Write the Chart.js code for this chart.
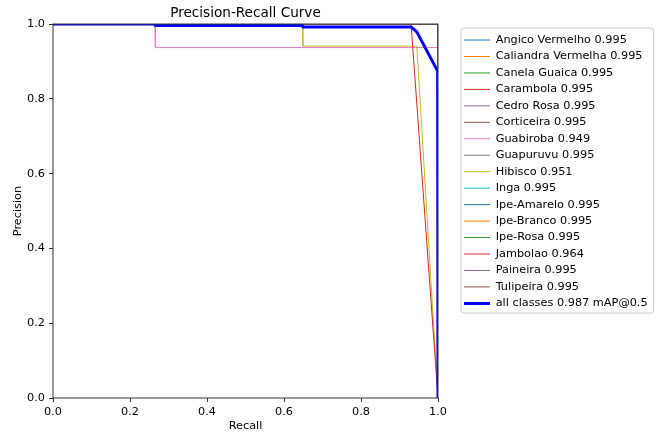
<!DOCTYPE html>
<html>
<head>
<meta charset="utf-8">
<script src="https://cdn.jsdelivr.net/npm/chart.js@4.4.1/dist/chart.umd.min.js"></script>
<style>
  html, body { margin: 0; padding: 0; background: #fff; }
  #wrap { width: 660px; height: 432px; }
</style>
</head>
<body>
<div id="wrap"><canvas id="pr-chart" width="660" height="432"></canvas></div>
<script>
// class names and their AP@0.5 as shown in the legend
const classNames = ['Angico Vermelho', 'Caliandra Vermelha', 'Canela Guaica', 'Carambola', 'Cedro Rosa',
    'Corticeira', 'Guabiroba', 'Guapuruvu', 'Hibisco', 'Inga', 'Ipe-Amarelo', 'Ipe-Branco',
    'Ipe-Rosa', 'Jambolao', 'Paineira', 'Tulipeira'];
const classAP = [0.995, 0.995, 0.995, 0.995, 0.995, 0.995, 0.949, 0.995, 0.951, 0.995, 0.995, 0.995,
    0.995, 0.964, 0.995, 0.995];
const meanAP = 0.987;

// curves (recall -> precision)
const perfectRecall = [0, 0.999, 1];
const perfectPrecision = [1, 1, 0];
const guabirobaRecall = [0, 0.265, 0.266, 0.999, 1];
const guabirobaPrecision = [1, 1, 0.937, 0.937, 0];
const hibiscoRecall = [0, 0.648, 0.649, 0.945, 1];
const hibiscoPrecision = [1, 1, 0.941, 0.941, 0];
const jambolaoRecall = [0, 0.93, 1];
const jambolaoPrecision = [1, 1, 0];
const allRecall = [0, 0.265, 0.266, 0.648, 0.649, 0.93, 0.945, 0.999, 1];
const allPrecision = [1, 1, 0.996, 0.996, 0.992, 0.992, 0.979, 0.874, 0];

// which curve each class uses
const classRecall = classNames.map(n => n === 'Guabiroba' ? guabirobaRecall
    : n === 'Hibisco' ? hibiscoRecall : n === 'Jambolao' ? jambolaoRecall : perfectRecall);
const classPrecision = classNames.map(n => n === 'Guabiroba' ? guabirobaPrecision
    : n === 'Hibisco' ? hibiscoPrecision : n === 'Jambolao' ? jambolaoPrecision : perfectPrecision);

const tickLabels = ['0.0', '0.2', '0.4', '0.6', '0.8', '1.0'];

// matplotlib tab10 cycle
const palette = ['#1f77b4', '#ff7f0e', '#2ca02c', '#d62728', '#9467bd', '#8c564b', '#e377c2', '#7f7f7f', '#bcbd22', '#17becf'];

const FONT = 'DejaVu Sans';
const FS = 11.3;
const HANDLE = 26;

function toPoints(rx, py) {
    return rx.map((r, i) => ({ x: r, y: py[i] }));
}

const datasets = classNames.map((name, i) => ({
    label: name + ' ' + classAP[i].toFixed(3),
    data: toPoints(classRecall[i], classPrecision[i]),
    borderColor: palette[i % palette.length],
    borderWidth: 1,
    pointBorderWidth: 1,
    order: classNames.length - i
}));
datasets.push({
    label: 'all classes ' + meanAP.toFixed(3) + ' mAP@0.5',
    data: toPoints(allRecall, allPrecision),
    borderColor: '#0000ff',
    borderWidth: 3,
    pointBorderWidth: 3,
    order: 0
});

function legendTextWidth(ctx, items) {
    ctx.save();
    ctx.font = FS + 'px "' + FONT + '"';
    const w = Math.max(...items.map(it => ctx.measureText(it.text).width));
    ctx.restore();
    return w;
}

// moves the legend next to the plot and draws frame + spines like matplotlib
const mplLook = {
    id: 'mplLook',
    afterLayout(chart) {
        const lg = chart.legend;
        const pad = lg.options.labels.padding;
        const left = chart.chartArea.right + 26 - pad;
        const top = chart.chartArea.top + 16 - FS / 2 - pad;
        const w = pad + HANDLE + FS / 2 + legendTextWidth(chart.ctx, lg.legendItems || []) + 12;
        lg.left = left; lg.right = left + Math.max(w, lg.width);
        lg.width = lg.right - lg.left;
        lg.top = top; lg.bottom = top + lg.height;
    },
    afterDatasetsDraw(chart) {
        const {ctx, chartArea: a} = chart;
        ctx.save();
        ctx.strokeStyle = '#333';
        ctx.lineWidth = 1;
        ctx.strokeRect(a.left, a.top, a.right - a.left, a.bottom - a.top);
        ctx.restore();
    },
    afterDraw(chart) {
        const {ctx} = chart;
        const lg = chart.legend;
        const pad = lg.options.labels.padding;
        const n = lg.legendItems.length;
        const textW = legendTextWidth(ctx, lg.legendItems);
        const x0 = lg.left + pad - 3;
        const y0 = lg.top + pad - 6.4;
        const x1 = lg.left + pad + HANDLE + FS / 2 + textW + 6;
        const y1 = lg.top + pad + n * (FS + pad) - pad + 4;
        ctx.save();
        ctx.strokeStyle = '#cccccc';
        ctx.lineWidth = 1;
        ctx.beginPath();
        ctx.roundRect(x0, y0, x1 - x0, y1 - y0, 3);
        ctx.stroke();
        ctx.restore();
    }
};

function axisOpts(title) {
    return {
        type: 'linear',
        min: 0,
        max: 1,
        ticks: {
            stepSize: 0.2,
            padding: 4,
            color: '#000',
            font: { family: FONT, size: FS },
            callback: (v, i) => tickLabels[i]
        },
        grid: { display: true, drawOnChartArea: false, drawTicks: true, tickLength: 4, color: '#333', tickColor: '#333' },
        border: { display: false },
        title: { display: true, text: title, color: '#000', font: { family: FONT, size: FS }, padding: 0 }
    };
}

const xAxis = axisOpts('Recall');
xAxis.ticks.padding = 3;
xAxis.title.padding = { top: 0, bottom: -1 };
xAxis.afterFit = s => { s.height = 34; };
const yAxis = axisOpts('Precision');
yAxis.title.padding = { top: 11, bottom: 0 };
yAxis.afterFit = s => { s.width = 53; };

new Chart(document.getElementById('pr-chart'), {
    type: 'line',
    data: { datasets: datasets },
    options: {
        responsive: false,
        animation: false,
        events: [],
        devicePixelRatio: 1,
        layout: { padding: { left: 0, right: 76, top: 0, bottom: 0 } },
        elements: {
            line: { tension: 0, fill: false, borderJoinStyle: 'round', borderCapStyle: 'butt' },
            point: { radius: 0, hoverRadius: 0 }
        },
        scales: { x: xAxis, y: yAxis },
        plugins: {
            title: {
                display: true,
                text: 'Precision-Recall Curve',
                fullSize: false,
                color: '#000',
                font: { family: FONT, size: 13.6, weight: 'normal' },
                padding: { top: 5, bottom: 2.7 }
            },
            legend: {
                position: 'right',
                align: 'start',
                labels: {
                    usePointStyle: true,
                    pointStyle: 'line',
                    pointStyleWidth: HANDLE,
                    padding: 16.46 - FS,
                    color: '#000',
                    font: { family: FONT, size: FS },
                    sort: (a, b) => a.datasetIndex - b.datasetIndex
                }
            },
            tooltip: { enabled: false }
        }
    },
    plugins: [mplLook]
});
</script>
</body>
</html>
